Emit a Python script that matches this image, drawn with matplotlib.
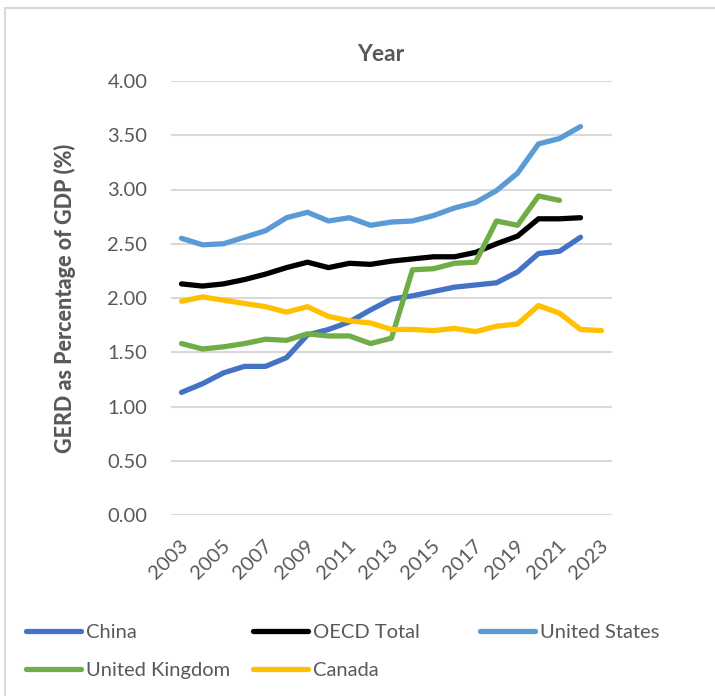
import matplotlib
matplotlib.use("Agg")
import matplotlib.pyplot as plt
from matplotlib.patches import Rectangle
import matplotlib.transforms as mtransforms

plt.rcParams['font.family'] = ['Lato', 'DejaVu Sans']

years = list(range(2003, 2024))
tick_years = years[::2]

china = [1.13, 1.21, 1.31, 1.37, 1.37, 1.45, 1.66, 1.71, 1.78, 1.89, 1.99,
         2.02, 2.06, 2.10, 2.12, 2.14, 2.24, 2.41, 2.43, 2.56, None]
oecd = [2.13, 2.11, 2.13, 2.17, 2.22, 2.28, 2.33, 2.28, 2.32, 2.31, 2.34,
        2.36, 2.38, 2.38, 2.42, 2.50, 2.57, 2.73, 2.73, 2.74, None]
united_states = [2.55, 2.49, 2.50, 2.56, 2.62, 2.74, 2.79, 2.71, 2.74, 2.67, 2.70,
                 2.71, 2.76, 2.83, 2.88, 2.99, 3.15, 3.42, 3.47, 3.58, None]
united_kingdom = [1.58, 1.53, 1.55, 1.58, 1.62, 1.61, 1.67, 1.65, 1.65, 1.58, 1.63,
                  2.26, 2.27, 2.32, 2.33, 2.71, 2.67, 2.94, 2.90, None, None]
canada = [1.97, 2.01, 1.98, 1.95, 1.92, 1.87, 1.92, 1.83, 1.79, 1.77, 1.71,
          1.71, 1.70, 1.72, 1.69, 1.74, 1.76, 1.93, 1.86, 1.71, 1.70]

series = [
    ("China", china, "#4472C4"),
    ("OECD Total", oecd, "#000000"),
    ("United States", united_states, "#5B9BD5"),
    ("United Kingdom", united_kingdom, "#70AD47"),
    ("Canada", canada, "#FFC000"),
]

W, H = 715, 696
fig = plt.figure(figsize=(W / 100, H / 100), dpi=100)
ax = fig.add_axes([171 / W, 1 - 515 / H, (612 - 171) / W, (515 - 81) / H])

text_col = "#595959"
grid_col = "#D9D9D9"

handles = {}
for name, vals, col in series:
    xs = [i for i, v in enumerate(vals) if v is not None]
    ys = [v for v in vals if v is not None]
    (ln,) = ax.plot(xs, ys, color=col, lw=3.8, solid_capstyle="round",
                    solid_joinstyle="round", label=name)
    handles[name] = ln

ax.set_xlim(-0.5, len(years) - 0.5)
ax.set_ylim(0, 4)
ax.set_yticks([0.5 * i for i in range(9)])
ax.set_yticklabels([f"{0.5 * i:.2f}" for i in range(9)])
ax.grid(axis="y", color=grid_col, lw=1.5)
ax.set_axisbelow(True)
for s in ax.spines.values():
    s.set_visible(False)

ax.set_xticks([years.index(y) for y in tick_years])
ax.set_xticklabels([str(y) for y in tick_years], rotation=45, ha="right",
                   va="center", rotation_mode="anchor")
ax.tick_params(axis="both", length=0, labelsize=14.5, labelcolor=text_col)
ax.tick_params(axis="y", pad=17)
ax.tick_params(axis="x", pad=20)
offset = mtransforms.ScaledTranslation(4 / 100, 0, fig.dpi_scale_trans)
for lbl in ax.get_xticklabels():
    lbl.set_transform(lbl.get_transform() + offset)

ax.set_ylabel("GERD as Percentage of GDP (%)", fontsize=15.5, fontweight="black",
              color=text_col)
ax.yaxis.set_label_coords((76 - 171) / (612 - 171), 0.5)

fig.text(381 / W, 1 - 61 / H, "Year", ha="center", va="baseline",
         fontsize=16.5, fontweight="bold", color=text_col)

# chart frame
fig.patches.append(Rectangle((5 / W, -0.5), 2, 1.5 - 8 / H, transform=fig.transFigure,
                             fill=False, edgecolor="#D9D9D9", lw=1.5))

# legend: three columns at fixed positions
columns = [(["China", "United Kingdom"], 26), (["OECD Total", "Canada"], 253),
           (["United States"], 480)]
for names, x0 in columns:
    leg = fig.legend([handles[n] for n in names], names, loc="upper left",
                     bbox_to_anchor=(x0 / W, 1 - 624 / H), frameon=False,
                     fontsize=14.5, handlelength=2.75, handletextpad=0.25,
                     labelspacing=1.05, borderpad=0, borderaxespad=0,
                     labelcolor=text_col)
    for h in leg.legend_handles:
        h.set_solid_capstyle("round")
        h.set_linewidth(3.8)

fig.savefig("out.png", dpi=100)
